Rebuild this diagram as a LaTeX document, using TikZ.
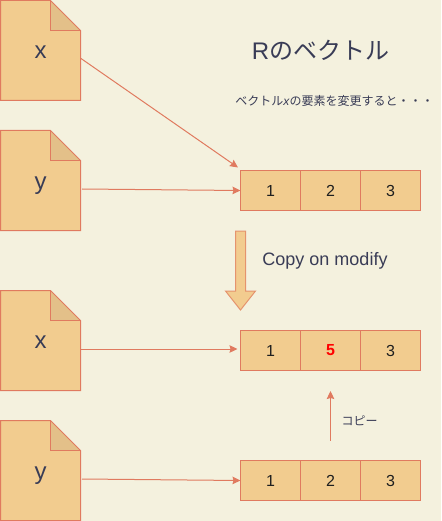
\documentclass[tikz,border=0pt]{standalone}
\usepackage{fontspec}
\setmainfont{Liberation Sans}
\newfontfamily\cjk{Noto Sans CJK JP}
\usetikzlibrary{arrows.meta,positioning}
\definecolor{bgc}{HTML}{F4F1DE}
\definecolor{linec}{HTML}{E07A5F}
\definecolor{fillc}{HTML}{F2CC8F}
\definecolor{foldc}{HTML}{E3C089}
\definecolor{textc}{HTML}{393C56}
\tikzset{
  conn/.style={draw=linec,line width=1pt,-{Stealth[length=8pt,width=7.5pt,inset=1pt]}},
  cellbox/.style={draw=linec,fill=fillc,line width=1pt,minimum width=60pt,minimum height=40pt,inner sep=0pt,outer sep=0pt,text=black!88,font=\fontsize{16}{18}\selectfont},
  docbox/.style={minimum width=80pt,minimum height=100pt,inner sep=0pt,outer sep=0pt,text=textc,font=\fontsize{24}{26}\selectfont},
  docline/.style={draw=linec,line width=1pt,line join=miter},
  doc/.pic={
    \fill[fillc] (-40,50) -- (10,50) -- (40,20) -- (40,-50) -- (-40,-50) -- cycle;
    \fill[foldc] (10,50) -- (40,20) -- (10,20) -- cycle;
    \draw[docline] (-40,50) -- (10,50) -- (40,20) -- (40,-50) -- (-40,-50) -- cycle;
    \draw[docline] (10,50) -- (10,20) -- (40,20);
  },
  lab/.style={text=textc,inner sep=0pt,outer sep=0pt},
}
\begin{document}
\begin{tikzpicture}[x=1pt,y=-1pt]
\useasboundingbox[fill=bgc] (0,0) rectangle (441,521);
% documents
\pic[yscale=-1] at (40.5,50.5) {doc};
\pic[yscale=-1] at (40.5,180.5) {doc};
\pic[yscale=-1] at (40.5,340.5) {doc};
\pic[yscale=-1] at (40.5,470.5) {doc};
\node[docbox] (x1) at (40.5,52.5) {x};
\node[docbox] (y1) at (40.5,185.5) {y};
\node[docbox] (x2) at (40.5,342.5) {x};
\node[docbox] (y2) at (40.5,475.5) {y};
% cells
\node[cellbox] (a1) at (270.5,190.5) {1};
\node[cellbox] (a2) at (330.5,190.5) {2};
\node[cellbox] (a3) at (390.5,190.5) {3};
\node[cellbox] (b1) at (270.5,350.5) {1};
\node[cellbox,text=red,font=\fontsize{16}{18}\selectfont\bfseries] (b2) at (330.5,350.5) {5};
\node[cellbox] (b3) at (390.5,350.5) {3};
\node[cellbox] (c1) at (270.5,480.5) {1};
\node[cellbox] (c2) at (330.5,480.5) {2};
\node[cellbox] (c3) at (390.5,480.5) {3};
% connector ends
\coordinate (s1) at (81,58.5);
\coordinate (t1) at (238,167.5);
\coordinate (s2) at (82,189);
\coordinate (s3) at (81,349);
\coordinate (t3) at (237.5,349);
\coordinate (s4) at (82,479);
\coordinate (s5) at (330.5,440.5);
\coordinate (t5) at (330.5,391);
\draw[conn] (s1) -- (t1);
\draw[conn] (s2) -- (a1.west);
\draw[conn] (s3) -- (t3);
\draw[conn] (s4) -- (c1.west);
\draw[conn] (s5) -- (t5);
% block arrow
\draw[draw=linec!70!fillc,fill=fillc,line width=1pt,line join=miter]
  (235.5,231) -- (245.5,231) -- (245.5,291) -- (255.5,291) -- (240.5,310) -- (225.5,291) -- (235.5,291) -- cycle;
% labels
\node[lab,font=\fontsize{24}{26}\selectfont] (title) at (320.5,50) {R{\cjk のベクトル}};
\node[lab,font=\fontsize{12}{14}\selectfont] (sub) at (334.5,100.5) {{\cjk ベクトル}\textit{x}{\cjk の要素を変更すると・・・}};
\node[lab,font=\fontsize{18}{20}\selectfont] (cm) at (325,261) {Copy on modify};
\node[lab,font=\fontsize{12}{14}\selectfont] (cp) at (359.5,420.5) {\cjk コピー};
\end{tikzpicture}
\end{document}
